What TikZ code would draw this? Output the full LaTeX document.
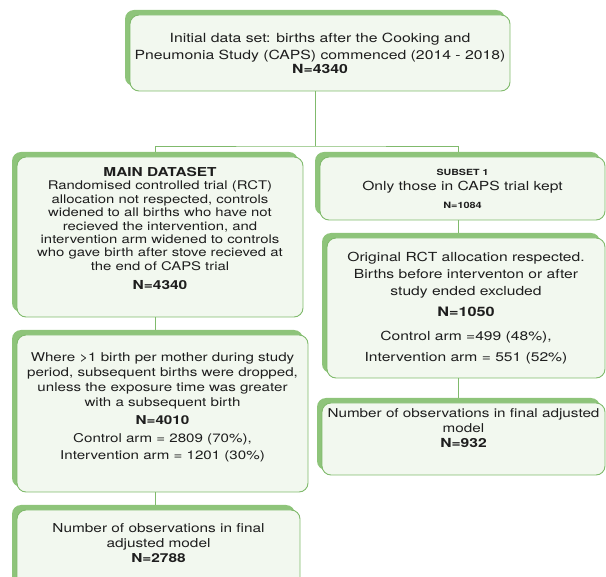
\documentclass[tikz,border=0pt]{standalone}
\usepackage{fontspec}
\setmainfont{TeX Gyre Heros}[FakeStretch=1.25]
\usetikzlibrary{shadows}

\definecolor{boxline}{RGB}{128,186,108}
\definecolor{boxshadow}{RGB}{142,196,122}
\definecolor{boxfill}{RGB}{242,248,239}
\definecolor{boxtext}{RGB}{30,30,30}
\newcommand{\lift}[1]{\rule[-#1pt]{0pt}{0pt}}
\newcommand{\sized}[2]{{\fontsize{#1}{12}\selectfont\textbf{#2}}}

\begin{document}
\begin{tikzpicture}[x=1pt, y=1pt, draw=boxline, line width=0.9pt]
  \tikzstyle{box}=[rectangle, rounded corners=9pt, draw=boxline, fill=boxfill,
    text=boxtext, align=center, inner sep=0pt,
    general shadow={shadow xshift=-5pt, shadow yshift=5pt, fill=boxshadow, draw=none},
    font=\fontsize{12.3}{15}\selectfont]
  \tikzstyle{link}=[draw=boxline, line width=0.9pt]

  \useasboundingbox (0,0) rectangle (606,-577);
  \clip (0,0) rectangle (606,-577);

  % Top box
  \node[box, minimum width=380pt, minimum height=76pt, font=\fontsize{12.6}{17}\selectfont]
    (init) at (320,-53) {Initial data set: births after the Cooking and\\
    Pneumonia Study (CAPS) commenced (2014 - 2018)\\[-3pt]\textbf{N=4340}};

  % Left column
  \node[box, minimum width=286pt, minimum height=160pt, font=\fontsize{11.9}{13.4}\selectfont]
    (main-1) at (160,-237) {\sized{12.3}{MAIN DATASET}\\
    Randomised controlled trial (RCT)\\allocation not respected, controls\\
    widened to all births who have not\\recieved the intervention, and\\
    intervention arm widened to controls\\who gave birth after stove recieved at\\
    the end of CAPS trial\\[6pt]\sized{12.4}{N=4340}\lift{17}};

  \node[box, minimum width=291pt, minimum height=157pt, font=\fontsize{12.1}{15}\selectfont]
    (main-2) at (162.5,-413.5) {Where >1 birth per mother during study\\
    period, subsequent births were dropped,\\unless the exposure time was greater\\
    with a subsequent birth\\[3pt]\sized{12.2}{N=4010}\\[3pt]Control arm = 2809 (70\%),\\[2pt]
    Intervention arm = 1201 (30\%)\lift{15}};

  \node[box, minimum width=283pt, minimum height=90pt]
    (main-3) at (158.5,-555) {Number of observations in final\\adjusted model\\
    \textbf{N=2788}\lift{24}};

  % Right column
  \node[box, minimum width=285pt, minimum height=63pt, font=\fontsize{12.5}{15}\selectfont]
    (sub-1) at (462.5,-188.5) {\sized{8.5}{SUBSET 1}\\Only those in CAPS trial kept\\[3pt]
    \sized{8.7}{N=1084}};

  \node[box, minimum width=278pt, minimum height=140pt, font=\fontsize{12.5}{17}\selectfont]
    (sub-2) at (466,-308) {Original RCT allocation respected.\\
    Births before interventon or after\\study ended excluded\\[4pt]
    \sized{13}{N=1050}\\[7pt]Control arm =499 (48\%),\\[4pt]
    Intervention arm = 551 (52\%)};

  \node[box, minimum width=283pt, minimum height=72pt, font=\fontsize{12.2}{15}\selectfont]
    (sub-3) at (463.5,-439) {Number of observations in final adjusted\\model\\
    \sized{12.5}{N=932}\lift{22}};

  % Connect nodes
  \coordinate (tc) at (315,0);
  \coordinate (lc) at (155,0);
  \coordinate (rc) at (458,0);
  \coordinate (split) at (315,-146);

  \draw[link] (init.south -| tc) -- (split);
  \draw[link] ([yshift=5pt]main-1.north -| lc) |- (split) -| ([yshift=5pt]sub-1.north -| rc);

  \foreach \a/\b in {main-1/main-2, main-2/main-3}
  \draw[link] (\a.south -| lc) -- ([yshift=5pt]\b.north -| lc);

  \foreach \a/\b in {sub-1/sub-2, sub-2/sub-3}
  \draw[link] (\a.south -| rc) -- ([yshift=5pt]\b.north -| rc);
\end{tikzpicture}
\end{document}
